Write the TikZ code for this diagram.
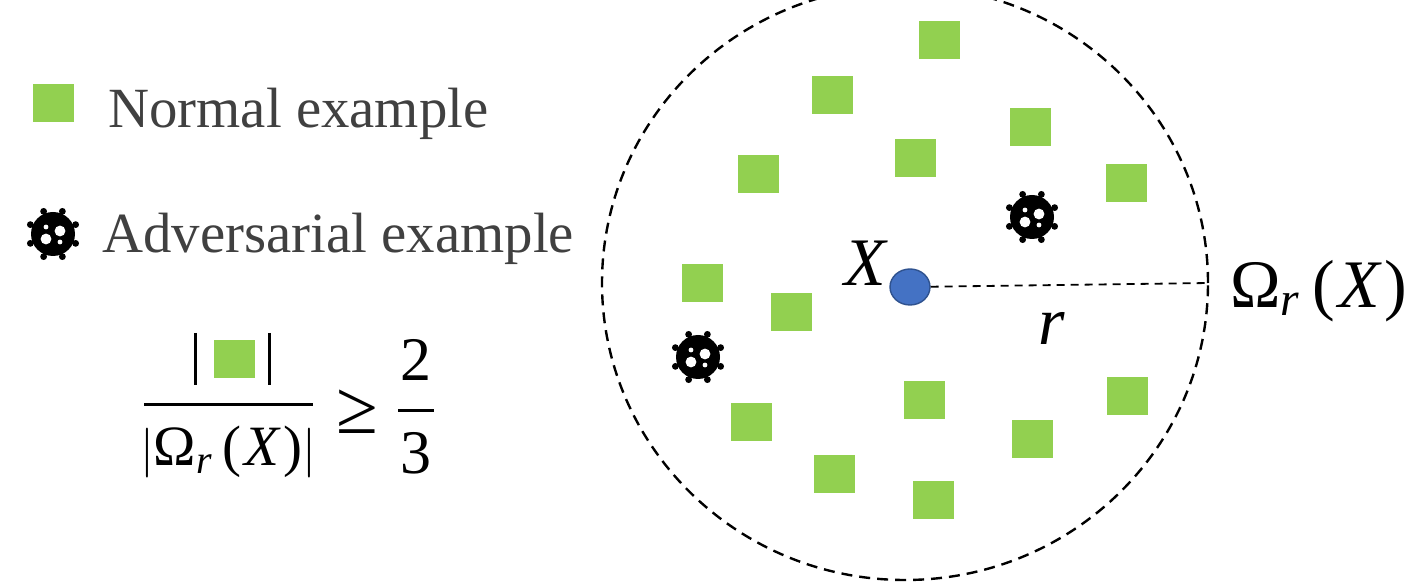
\documentclass[tikz,border=0pt]{standalone}
\usepackage{fontspec}
\setmainfont{Liberation Serif}
\usepackage{amsmath}
\usepackage{xcolor}
\usetikzlibrary{shapes.geometric, positioning}
\definecolor{normalgreen}{HTML}{92D050}
\definecolor{dotblue}{HTML}{4472C4}
\definecolor{dotedge}{HTML}{2F528F}
\definecolor{legendgray}{HTML}{404040}

\newcommand{\omegar}{\text{Ω}_{\text{\itshape r}}\kern.17em\text{(}\kern.06em\text{\itshape X}\kern.06em\text{)}}

\tikzset{
  virus/.pic={
    \foreach \a in {22.5,67.5,...,360} {
      \draw[black, line width=1.6pt] (0,0) -- (\a:24);
      \fill[black] (\a:24.5) circle (1.7pt);
    }
    \fill[black] (0,0) circle (22);
    \fill[white] (7,-3) circle (5.4);
    \fill[white] (-7,5) circle (5.4);
    \fill[white] (-7,-7) circle (2.4);
    \fill[white] (7,8) circle (2.4);
  }
}

\begin{document}
\begin{tikzpicture}[
  x=0.5pt, y=-0.5pt,
  normalbox/.style={rectangle, fill=normalgreen, inner sep=0pt,
                    minimum width=20.5pt, minimum height=19pt},
  legend/.style={font=\fontsize{28.4}{29}\selectfont, text=legendgray, anchor=base west, inner sep=0pt},
  mathlbl/.style={font=\fontsize{34}{34}\selectfont, inner sep=0pt},
  fraclbl/.style={font=\fontsize{28.5}{28.5}\selectfont, inner sep=0pt},
  digit/.style={font=\fontsize{31}{31}\selectfont, inner sep=0pt},
  rulebar/.style={black, line width=1.5pt},
  rimline/.style={dash pattern=on 5.5pt off 3.5pt, line width=1.2pt},
  radiusline/.style={dash pattern=on 4pt off 3pt, line width=0.9pt}
]
  \useasboundingbox (0,0) rectangle (1408,582);

  % legend
  \node[normalbox] (legendsq) at (53,103) {};
  \node[legend] (legendnormal) at (108,128) {Normal example};
  \pic at (53,234) {virus};
  \node[legend] (legendadv) at (102,253) {Adversarial example};

  % ratio
  \node[normalbox] (ratiosq) at (234,359) {};
  \draw[rulebar] (195,333) -- (195,385);
  \draw[rulebar] (269,333) -- (269,385);
  \coordinate (ratioL) at (144,405);
  \coordinate (ratioR) at (313,405);
  \draw[rulebar] (ratioL) -- (ratioR);
  \node[fraclbl] (ratiodown) at (228,452) {$|\omegar|$};
  \node[digit, font=\fontsize{38}{38}\selectfont] (geq) at (357,412) {≥};
  \node[digit] (two) at (416,360) {2};
  \coordinate (barL) at (398,411);
  \coordinate (barR) at (434,411);
  \draw[rulebar] (barL) -- (barR);
  \node[digit] (three) at (416,453) {3};

  % neighbourhood
  \node[draw, rimline, ellipse, inner sep=0pt,
        minimum width=303pt, minimum height=297pt] (omega) at (905,283) {};

  \foreach \px/\py in {939/40, 832/95, 1030/127, 915/158, 758/174, 1126/183, 702/283,
                       791/312, 924/400, 1127/396, 751/422, 1032/439, 834/474, 933/500} {
    \node[normalbox] at (\px,\py) {};
  }
  \pic at (1032,217) {virus};
  \pic at (698,357) {virus};

  \node[ellipse, fill=dotblue, draw=dotedge, line width=0.7pt, inner sep=0pt,
        minimum width=20pt, minimum height=18pt] (x) at (910,287) {};
  \draw[radiusline] (x) -- (omega.east);

  \node[mathlbl] (xlbl) at (865,263) {$\text{\itshape X}$};
  \node[mathlbl] (rlbl) at (1052,328) {$\text{\itshape r}$};
  \node[mathlbl, anchor=base west] (omegalbl) at (1230,308) {$\omegar$};
\end{tikzpicture}
\end{document}
